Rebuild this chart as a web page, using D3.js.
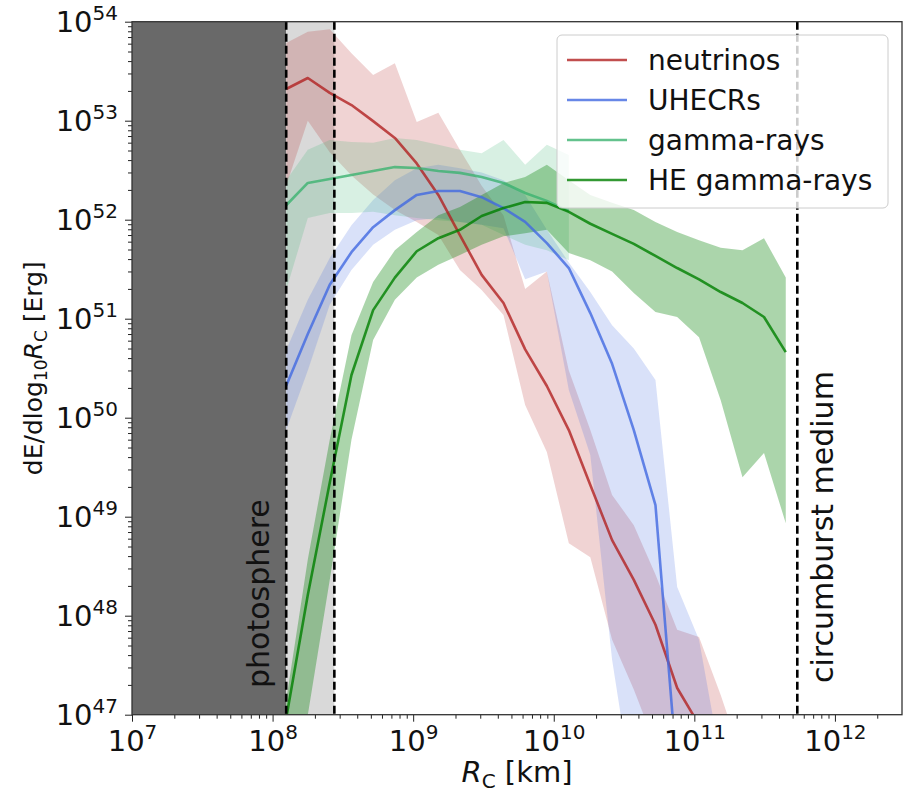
<!DOCTYPE html>
<html lang="en">
<head>
<meta charset="utf-8">
<title>dE/dlogR by messenger</title>
<script src="https://cdn.jsdelivr.net/npm/d3@7"></script>
<style>
  body { margin: 0; background: #fff; }
  text { font-family: "DejaVu Sans", sans-serif; fill: #111; }
  .axis path { display: none; }
  .axis line { stroke: #222; stroke-width: 1; }
</style>
</head>
<body>
<script>

// ---- data ----
var radius = [1.25e8, 1.78e8, 2.55e8, 3.64e8, 5.19e8, 7.41e8, 1.06e9, 1.51e9,
              2.15e9, 3.07e9, 4.39e9, 6.26e9, 8.93e9, 1.28e10, 1.82e10, 2.60e10,
              3.71e10, 5.29e10, 7.55e10, 1.08e11, 1.54e11, 2.20e11, 3.13e11, 4.47e11];

var photosphere = [1.25e8, 2.75e8];
var circumburst = 5.4e11;

var nuMid = [2.09e53, 2.70e53, 1.91e53, 1.44e53, 9.9e52, 6.7e52, 3.7e52, 1.78e52,
             7.0e51, 2.77e51, 1.44e51, 4.9e50, 2.09e50, 7.5e49, 2.09e49, 5.8e48,
             2.3e48, 8.1e47, 1.86e47, 7.9e46, 3.2e46, 1.0e46];
var nuHi  = [6.1e53, 7.9e53, 8.4e53, 4.8e53, 2.9e53, 3.8e53, 9.7e52, 1.2e53,
             5.1e52, 2.2e52, 1.1e52, 2.0e51, 3.0e51, 3.0e50, 7.5e49, 1.66e49,
             8.2e48, 2.6e48, 7.2e47, 6.1e47, 1.58e47, 3.5e46];
var nuLo  = [2.2e52, 1.0e53, 4.8e52, 2.8e52, 1.8e52, 1.25e52, 9.5e51, 7.0e51,
             3.1e51, 1.95e51, 1.09e51, 1.34e50, 4.5e49, 5.4e48, 3.9e48, 5.7e47,
             1.8e47, 4.9e46, 1.4e46, 3.4e45, 8.5e44, 1.0e44];

var crMid = [2.1e50, 7.0e50, 2.2e51, 4.7e51, 8.4e51, 1.25e52, 1.78e52, 1.95e52,
             1.95e52, 1.69e52, 1.31e52, 9.5e51, 5.8e51, 3.25e51, 1.14e51, 3.5e50,
             7.5e49, 1.31e49, 2.6e46, 2.0e44, 1.0e43];
var crHi  = [4.8e50, 1.55e51, 4.1e51, 8.8e51, 1.58e52, 2.5e52, 3.3e52, 3.6e52,
             3.3e52, 3.0e52, 2.5e52, 1.78e52, 7.9e51, 3.7e51, 1.86e51, 8.6e50,
             5.0e50, 2.4e50, 1.95e48, 5.7e47, 3.5e46];
var crLo  = [7.5e49, 3.0e50, 1.38e51, 3.1e51, 5.6e51, 7.9e51, 9.9e51, 1.04e52,
             9.5e51, 8.9e51, 8.2e51, 2.5e51, 3.0e51, 1.9e50, 4.2e49, 3.6e47,
             1.4e46, 2.0e45, 1.0e45, 1.0e44, 1.0e43];

var gamMid = [1.4e52, 2.35e52, 2.58e52, 2.83e52, 3.1e52, 3.4e52, 3.33e52, 3.1e52,
              2.97e52, 2.7e52, 2.35e52, 1.86e52, 1.55e52, 1.22e52];
var gamHi  = [2.5e52, 5.1e52, 6.4e52, 6.1e52, 6.0e52, 6.7e52, 6.4e52, 5.7e52,
              5.1e52, 4.7e52, 6.4e52, 3.6e52, 5.7e52, 4.5e52];
var gamLo  = [1.95e51, 1.04e52, 1.17e52, 1.17e52, 1.2e52, 1.11e52, 1.04e52, 9.9e51,
              9.5e51, 8.9e51, 7.0e51, 5.6e51, 4.9e51, 3.9e51];

var heMid = [9.2e46, 1.62e48, 2.2e49, 2.7e50, 1.22e51, 2.6e51, 4.8e51, 6.5e51,
             7.9e51, 1.09e52, 1.31e52, 1.51e52, 1.48e52, 1.2e52, 9.1e51, 7.2e51,
             5.7e51, 4.3e51, 3.25e51, 2.5e51, 1.86e51, 1.44e51, 1.04e51, 4.6e50];
var heHi  = [1.4e47, 3.7e48, 6.0e49, 6.8e50, 2.35e51, 4.9e51, 7.5e51, 1.11e52,
             1.34e52, 1.78e52, 2.35e52, 2.7e52, 3.6e52, 2.5e52, 1.78e52, 1.48e52,
             1.25e52, 9.5e51, 7.5e51, 6.2e51, 5.2e51, 4.9e51, 6.5e51, 2.6e51];
var heLo  = [3.5e46, 9.9e46, 2.3e48, 6.0e49, 6.1e50, 1.55e51, 2.6e51, 3.5e51,
             4.4e51, 5.6e51, 6.8e51, 7.3e51, 7.9e51, 4.6e51, 3.9e51, 3.0e51,
             1.82e51, 1.17e51, 1.04e51, 6.5e50, 1.5e50, 2.5e49, 4.4e49, 8.6e48];

var xMajor = [1e7, 1e8, 1e9, 1e10, 1e11, 1e12];
var yMajor = [1e47, 1e48, 1e49, 1e50, 1e51, 1e52, 1e53, 1e54];

var series = [
  {label: "neutrinos",    color: "#b22222", mid: nuMid,  hi: nuHi,  lo: nuLo,  band: 0.2},
  {label: "UHECRs",       color: "#4169e1", mid: crMid,  hi: crHi,  lo: crLo,  band: 0.2},
  {label: "gamma-rays",   color: "#3cb371", mid: gamMid, hi: gamHi, lo: gamLo, band: 0.2},
  {label: "HE gamma-rays",color: "#008000", mid: heMid,  hi: heHi,  lo: heLo,  band: 0.33}
];

// ---- layout ----
var w = 906, h = 794;
var plotL = 132, plotR = 902, plotT = 21.7, plotB = 714.7;

var svg = d3.select("body").append("svg")
  .attr("width", w)
  .attr("height", h);

var x = d3.scaleLog().domain([1e7, 3e12]).range([plotL, plotR]);
var y = d3.scaleLog().domain([1e47, 1e54]).range([plotB, plotT]);

svg.append("defs").append("clipPath").attr("id", "clip")
  .append("rect")
  .attr("x", plotL).attr("y", plotT)
  .attr("width", plotR - plotL).attr("height", plotB - plotT);

var plot = svg.append("g").attr("clip-path", "url(#clip)");

// shaded zones
plot.append("rect")
  .attr("x", x(1e7)).attr("y", plotT)
  .attr("width", x(photosphere[0]) - x(1e7)).attr("height", plotB - plotT)
  .attr("fill", "#696969");
plot.append("rect")
  .attr("x", x(photosphere[0])).attr("y", plotT)
  .attr("width", x(photosphere[1]) - x(photosphere[0])).attr("height", plotB - plotT)
  .attr("fill", "#d9d9d9");

// bands then lines
series.forEach(function(s) {
  var area = d3.area()
    .x(function(d, i) { return x(radius[i]); })
    .y0(function(d, i) { return y(s.lo[i]); })
    .y1(function(d, i) { return y(s.hi[i]); });
  plot.append("path")
    .datum(s.hi)
    .attr("d", area)
    .attr("fill", s.color)
    .attr("fill-opacity", s.band);
});

series.forEach(function(s) {
  var line = d3.line()
    .x(function(d, i) { return x(radius[i]); })
    .y(function(d) { return y(d); });
  plot.append("path")
    .datum(s.mid)
    .attr("d", line)
    .attr("fill", "none")
    .attr("stroke", s.color)
    .attr("stroke-opacity", 0.8)
    .attr("stroke-width", 2.6)
    .attr("stroke-linejoin", "round");
});

// dashed markers
[photosphere[0], photosphere[1], circumburst].forEach(function(v) {
  plot.append("line")
    .attr("x1", x(v)).attr("x2", x(v))
    .attr("y1", plotT).attr("y2", plotB)
    .attr("stroke", "#000")
    .attr("stroke-width", 2.6)
    .attr("stroke-dasharray", "8,4");
});

svg.append("text")
  .attr("transform", "translate(269,688) rotate(-90)")
  .style("font-size", "30px")
  .text("photosphere");

svg.append("text")
  .attr("transform", "translate(833,683) rotate(-90)")
  .style("font-size", "30px")
  .text("circumburst medium");

// ---- axes ----
var xMinor = [], yMinor = [];
for (var e = 7; e <= 12; e++) {
  for (var k = 2; k <= 9; k++) {
    if (k * Math.pow(10, e) < 3e12) xMinor.push(k * Math.pow(10, e));
  }
}
for (var e2 = 47; e2 < 54; e2++) {
  for (var k2 = 2; k2 <= 9; k2++) yMinor.push(k2 * Math.pow(10, e2));
}

svg.append("g").attr("class", "axis")
  .attr("transform", "translate(0," + plotB + ")")
  .call(d3.axisBottom(x).tickValues(xMinor).tickSize(4).tickFormat(""));
var gx = svg.append("g").attr("class", "axis")
  .attr("transform", "translate(0," + plotB + ")")
  .call(d3.axisBottom(x).tickValues(xMajor).tickSize(7).tickFormat(""));

svg.append("g").attr("class", "axis")
  .attr("transform", "translate(" + plotL + ",0)")
  .call(d3.axisLeft(y).tickValues(yMinor).tickSize(4).tickFormat(""));
var gy = svg.append("g").attr("class", "axis")
  .attr("transform", "translate(" + plotL + ",0)")
  .call(d3.axisLeft(y).tickValues(yMajor).tickSize(7).tickFormat(""));

gx.selectAll(".tick").each(function(d) {
  var t = d3.select(this).append("text")
    .attr("y", 36)
    .attr("text-anchor", "middle")
    .style("font-size", "29px");
  t.append("tspan").text("10");
  t.append("tspan").attr("dy", -12).style("font-size", "20px").text(Math.round(Math.log10(d)));
});

gy.selectAll(".tick").each(function(d) {
  var t = d3.select(this).append("text")
    .attr("x", -14)
    .attr("y", 10)
    .attr("text-anchor", "end")
    .style("font-size", "29px");
  t.append("tspan").text("10");
  t.append("tspan").attr("dy", -12).style("font-size", "20px").text(Math.round(Math.log10(d)));
});

// frame
svg.append("rect")
  .attr("x", plotL).attr("y", plotT)
  .attr("width", plotR - plotL).attr("height", plotB - plotT)
  .attr("fill", "none")
  .attr("stroke", "#333")
  .attr("stroke-width", 1.3);

// axis labels
var xl = svg.append("text")
  .attr("x", (plotL + plotR) / 2)
  .attr("y", 782)
  .attr("text-anchor", "middle")
  .style("font-size", "29px");
xl.append("tspan").style("font-style", "italic").text("R");
xl.append("tspan").attr("dy", 6).style("font-size", "20px").text("C");
xl.append("tspan").attr("dy", -6).text(" [km]");

var yl = svg.append("text")
  .attr("transform", "translate(42," + (plotT + plotB) / 2 + ") rotate(-90)")
  .attr("text-anchor", "middle")
  .style("font-size", "25px");
yl.append("tspan").text("dE/dlog");
yl.append("tspan").attr("dy", 5).style("font-size", "17px").text("10");
yl.append("tspan").attr("dy", -5).style("font-style", "italic").text("R");
yl.append("tspan").attr("dy", 5).style("font-size", "17px").text("C");
yl.append("tspan").attr("dy", -5).text(" [Erg]");

// legend
var legend = svg.append("g");
legend.append("rect")
  .attr("x", 557).attr("y", 35)
  .attr("width", 331).attr("height", 173)
  .attr("rx", 5)
  .attr("fill", "#fff").attr("fill-opacity", 0.8)
  .attr("stroke", "#ccc");

series.forEach(function(s, i) {
  var ry = 60 + i * 40;
  legend.append("line")
    .attr("x1", 567).attr("x2", 627)
    .attr("y1", ry).attr("y2", ry)
    .attr("stroke", s.color)
    .attr("stroke-opacity", 0.8)
    .attr("stroke-width", 2.6);
  legend.append("text")
    .attr("x", 648).attr("y", ry)
    .attr("dy", "0.35em")
    .style("font-size", "28px")
    .text(s.label);
});

</script>
</body>
</html>
